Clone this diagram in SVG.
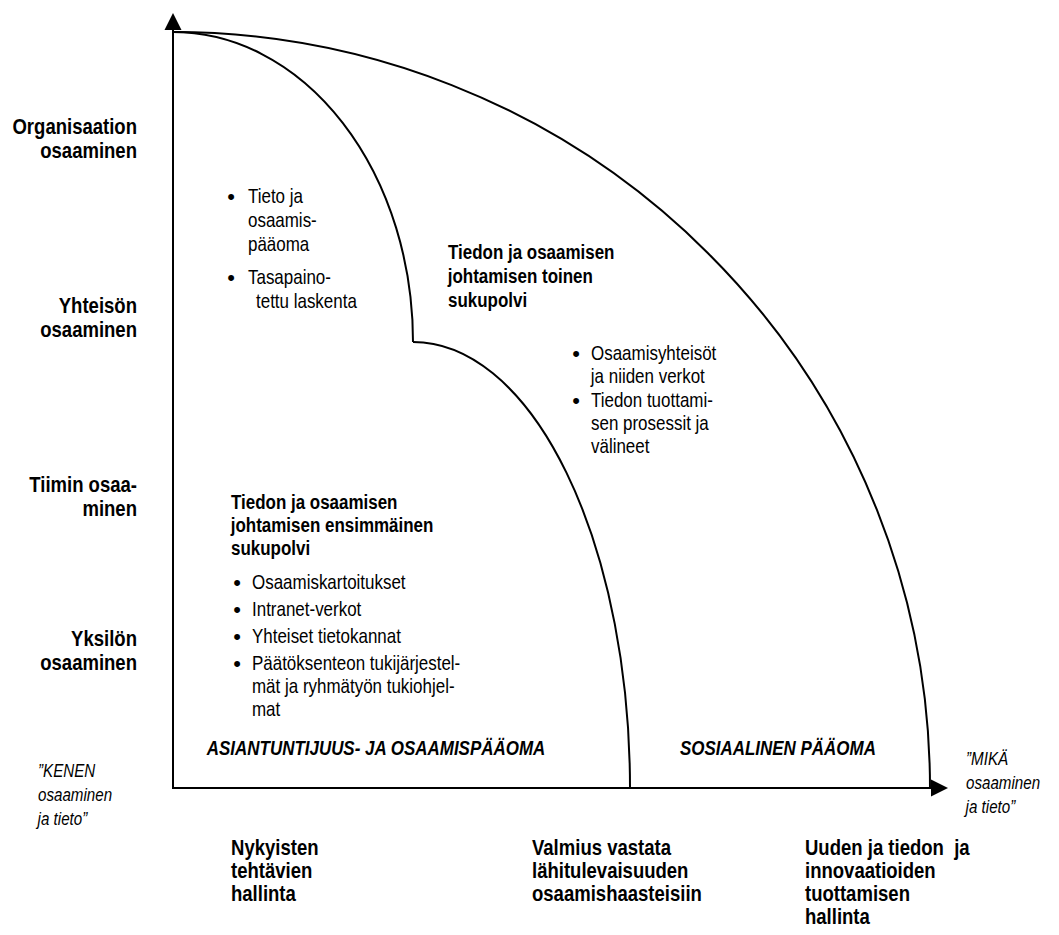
<svg xmlns="http://www.w3.org/2000/svg" width="1059" height="935" viewBox="0 0 1059 935">
  <style>
    text { font-family: "Liberation Sans", Arial, sans-serif; font-size: 20.7px; fill: #000;
           transform-box: fill-box; transform-origin: 0 50%; transform: scaleX(0.82); }
    .b { font-weight: bold; }
    .i { font-style: italic; }
    .lbl { font-size: 22.6px; }
    .sm { font-size: 18.5px; }
    .r { text-anchor: end; transform-origin: 100% 50%; }
    text.dot { font-size: 22px; transform: none; text-anchor: middle; }
    .line { fill: none; stroke: #000; stroke-width: 2; }
  </style>
  <defs>
    <marker id="arrow" viewBox="0 0 17 17" refX="0" refY="8.5" markerWidth="17" markerHeight="17" markerUnits="userSpaceOnUse" orient="auto" overflow="visible">
      <path d="M0,0 L17,8.5 L0,17 Z" fill="#000"/>
    </marker>
  </defs>
  <rect width="1059" height="935" fill="#fff"/>

  <g id="connectors">
    <!-- axes -->
    <path class="line" d="M173,789 V30" marker-end="url(#arrow)"/>
    <path class="line" d="M172,788 H931" marker-end="url(#arrow)"/>
    <!-- upper boundary of the first-generation area -->
    <path class="line" d="M173,32 A240,310 0 0 1 413,342"/>
    <!-- lower boundary of the first-generation area -->
    <path class="line" d="M413,342 A217,446 0 0 1 630,788"/>
    <!-- outer boundary of the second-generation area -->
    <path class="line" d="M173,32 A757,756 0 0 1 930,788"/>
  </g>

  <g id="axis-labels-y">
    <text class="b r lbl" x="137" y="134">Organisaation</text>
    <text class="b r lbl" x="137" y="158">osaaminen</text>
    <text class="b r lbl" x="137" y="313">Yhteisön</text>
    <text class="b r lbl" x="137" y="337">osaaminen</text>
    <text class="b r lbl" x="137" y="492">Tiimin osaa-</text>
    <text class="b r lbl" x="137" y="516">minen</text>
    <text class="b r lbl" x="137" y="646">Yksilön</text>
    <text class="b r lbl" x="137" y="670">osaaminen</text>
    <text class="i sm" x="38" y="777">”KENEN</text>
    <text class="i sm" x="38" y="801">osaaminen</text>
    <text class="i sm" x="38" y="825">ja tieto”</text>
  </g>

  <g id="axis-labels-x">
    <text class="i sm" x="966" y="765">”MIKÄ</text>
    <text class="i sm" x="966" y="789">osaaminen</text>
    <text class="i sm" x="966" y="813">ja tieto”</text>
    <text class="b lbl" x="231" y="855">Nykyisten</text>
    <text class="b lbl" x="231" y="878">tehtävien</text>
    <text class="b lbl" x="231" y="901">hallinta</text>
    <text class="b lbl" x="532" y="855">Valmius vastata</text>
    <text class="b lbl" x="532" y="878">lähitulevaisuuden</text>
    <text class="b lbl" x="532" y="901">osaamishaasteisiin</text>
    <text class="b lbl" x="805" y="855" xml:space="preserve">Uuden ja tiedon  ja</text>
    <text class="b lbl" x="805" y="878">innovaatioiden</text>
    <text class="b lbl" x="805" y="901">tuottamisen</text>
    <text class="b lbl" x="805" y="924">hallinta</text>
  </g>

  <g id="node-capital">
    <text class="dot" x="231" y="204">•</text>
    <text x="248" y="203">Tieto ja</text>
    <text x="248" y="227">osaamis-</text>
    <text x="248" y="251">pääoma</text>
    <text class="dot" x="231" y="285">•</text>
    <text x="248" y="284">Tasapaino-</text>
    <text x="256" y="308">tettu laskenta</text>
  </g>

  <g id="node-second-generation">
    <text class="b" x="448" y="259">Tiedon ja osaamisen</text>
    <text class="b" x="448" y="283">johtamisen toinen</text>
    <text class="b" x="448" y="307">sukupolvi</text>
    <text class="dot" x="576" y="361">•</text>
    <text x="591" y="360">Osaamisyhteisöt</text>
    <text x="591" y="383">ja niiden verkot</text>
    <text class="dot" x="576" y="408">•</text>
    <text x="591" y="407">Tiedon tuottami-</text>
    <text x="591" y="430">sen prosessit ja</text>
    <text x="591" y="453">välineet</text>
  </g>

  <g id="node-first-generation">
    <text class="b" x="231" y="509">Tiedon ja osaamisen</text>
    <text class="b" x="231" y="532">johtamisen ensimmäinen</text>
    <text class="b" x="231" y="555">sukupolvi</text>
    <text class="dot" x="237" y="590">•</text>
    <text x="252" y="589">Osaamiskartoitukset</text>
    <text class="dot" x="237" y="617">•</text>
    <text x="252" y="616">Intranet-verkot</text>
    <text class="dot" x="237" y="644">•</text>
    <text x="252" y="643">Yhteiset tietokannat</text>
    <text class="dot" x="237" y="671">•</text>
    <text x="252" y="670">Päätöksenteon tukijärjestel-</text>
    <text x="252" y="693">mät ja ryhmätyön tukiohjel-</text>
    <text x="252" y="716">mat</text>
  </g>

  <g id="node-expertise-capital">
    <text class="b i" x="207" y="755">ASIANTUNTIJUUS- JA OSAAMISPÄÄOMA</text>
  </g>

  <g id="node-social-capital">
    <text class="b i" x="680" y="755">SOSIAALINEN PÄÄOMA</text>
  </g>
</svg>
